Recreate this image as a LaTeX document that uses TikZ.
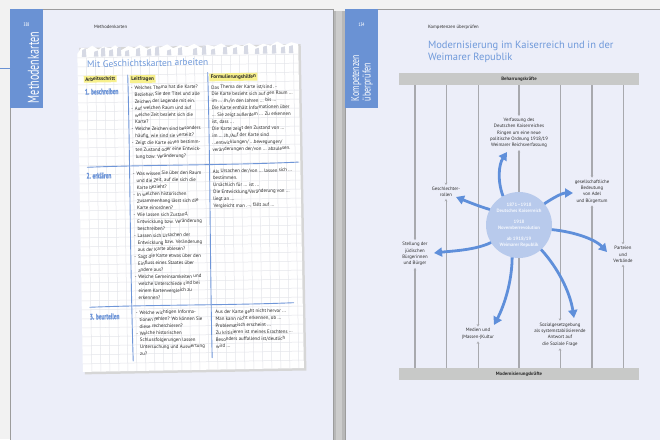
\documentclass[tikz,border=0pt]{standalone}
\usepackage{fontspec}
\setmainfont{PT Sans}
\setsansfont{PT Sans}
\newfontfamily\penfont[FakeBold=2]{PT Sans Bold}
\usetikzlibrary{arrows.meta}
\definecolor{pagebg}{HTML}{ECEEF9}
\definecolor{tabblue}{HTML}{6A92D4}
\definecolor{titleblue}{HTML}{6F99DA}
\definecolor{arrowblue}{HTML}{5F8FDA}
\definecolor{circfill}{HTML}{B8CAEC}
\definecolor{circtext}{HTML}{F2F6FD}
\definecolor{barfill}{HTML}{C8C9C8}
\definecolor{vline}{HTML}{A8A9AE}
\definecolor{gridc}{HTML}{E4E5EA}
\definecolor{hilite}{HTML}{F7F08C}
\definecolor{outerbg}{HTML}{F2F2F2}
\definecolor{pageedge}{HTML}{9C9C9C}
\definecolor{penblue}{HTML}{6F96D8}
\definecolor{txt}{HTML}{2A2A2A}
\definecolor{torn}{HTML}{D6D9E4}
\newcommand{\bi}{\makebox[3.6pt][l]{-}}
\newcommand{\ci}{\hspace*{3.6pt}}
\begin{document}
\begin{tikzpicture}[x=1pt,y=-1pt,
  every node/.style={inner sep=0pt, outer sep=0pt},
  lbl/.style={font=\fontsize{4.8}{6.4}\selectfont, align=center, text=txt, inner sep=2pt},
  vl/.style={draw=vline, line width=0.9pt, -{Stealth[length=2.4pt,width=2.6pt]}},
  vlthick/.style={vl, line width=1.4pt},
  bigarrow/.style={draw=arrowblue, line width=2.8pt, -{Triangle[length=8pt,width=9pt]}},
  bar/.style={fill=barfill, minimum width=240pt, minimum height=12pt, font=\fontsize{4.8}{5}\selectfont\bfseries, text=txt},
  paperhead/.style={fill=hilite, inner xsep=1.5pt, inner ysep=1.5pt, font=\fontsize{5.2}{6}\selectfont\bfseries, text=txt, anchor=west},
  rowlabel/.style={anchor=west, text=penblue, font=\fontsize{8}{9}\penfont},
  coltext/.style={anchor=north west, align=left, text=txt, font=\fontsize{4.9}{6.9}\selectfont},
  pen/.style={draw=penblue, line width=0.9pt, line cap=round},
  smallhead/.style={anchor=west, text=txt, font=\fontsize{4.7}{5}\selectfont},
  tabtext/.style={text=white, rotate=90},
]
\useasboundingbox (0,0) rectangle (660,439);
% ---------------- background and pages ----------------
\fill[outerbg] (0,0) rectangle (660,439);
\fill[black!10] (13,12) rectangle (338,445);
\fill[black!20] (333,11) rectangle (345,445);
\fill[black!28] (333,11) rectangle (336,445);
\fill[black!28] (342,11) rectangle (345,445);
\fill[pagebg] (10,9) rectangle (333,445);
\draw[pageedge, line width=0.8pt] (10,445) -- (10,9) -- (333,9) -- (333,445);
\fill[pagebg] (345,9) rectangle (665,445);
\draw[pageedge, line width=0.8pt] (345,445) -- (345,9) -- (665,9);
% ---------------- left page ----------------
\fill[tabblue] (10,9) rectangle (43,108);
\draw[tabblue, line width=0.8pt] (0,68) -- (10,68);
\node[text=white!85!tabblue, font=\fontsize{5}{6}\selectfont\bfseries] (lnum) at (26.5,25) {\scalebox{0.7}[1]{358}};
\node[tabtext] (ltab) at (33.5,67.5) {\resizebox{71pt}{11pt}{Methodenkarten}};
\node[smallhead] (lhead) at (94,27) {Methodenkarten};
% notepad
\begin{scope}[rotate around={1:(190,205)}, transform shape]
  \fill[black!16] (82,46) rectangle (303.5,372.5);
  \fill[white] (80,370) -- (80,52) -- (84,46) -- (90,47) -- (95,44) -- (101,48) -- (106,45) -- (113,47) -- (118,44) -- (124,49) -- (131,45) -- (137,47) -- (143,44) -- (150,48) -- (156,45) -- (163,47) -- (170,44) -- (176,48) -- (183,45) -- (190,47) -- (197,44) -- (204,48) -- (210,45) -- (217,47) -- (224,44) -- (231,48) -- (238,45) -- (245,47) -- (252,44) -- (259,48) -- (266,45) -- (273,47) -- (280,43) -- (287,47) -- (294,44) -- (301,46) -- (301,370) -- cycle;
  \foreach \gx in {89,98,...,300} \draw[gridc, line width=0.5pt] (\gx,56) -- (\gx,370);
  \foreach \gy in {56,65,...,369} \draw[gridc, line width=0.5pt] (80,\gy) -- (301,\gy);
  % torn remnants
  \foreach \tx/\th in {85/7,97/5,104/8,112/6,120/8,128/5,139/7,150/6,158/8,170/5,181/7,196/6,205/8,214/5,226/7,236/6,247/8,258/5,266/7,275/8,284/6,292/7}
    \fill[torn] (\tx,55-\th) -- (\tx+3.5,55-\th-1) -- (\tx+4,55) -- (\tx-0.5,55) -- cycle;
  \node[anchor=west, text=titleblue, font=\fontsize{9.5}{10}\selectfont] (ntitle) at (89.5,62.3) {Mit Geschichtskarten arbeiten};
  \node[paperhead] (h1) at (86,77.5) {Arbeitsschritt};
  \node[paperhead] (h2) at (132,78.2) {Leitfragen};
  \node[paperhead] (h3) at (211.5,77.8) {Formulierungshilfen};
  \draw[pen] (130,74) .. controls (131,150) and (129,250) .. (130.5,360);
  \draw[pen] (210,73) .. controls (211,160) and (209,260) .. (209.5,358);
  \draw[pen] (88,165.5) .. controls (150,164) and (230,166) .. (299,164);
  \draw[pen] (88,305.5) .. controls (150,304) and (230,306) .. (292,304.5);
  \node[rowlabel] (r1) at (87,90) {\scalebox{0.66}[1]{1. beschreiben}};
  \node[rowlabel] (r2) at (87,174) {\scalebox{0.66}[1]{2. erklären}};
  \node[rowlabel] (r3) at (88,315) {\scalebox{0.66}[1]{3. beurteilen}};
  \node[coltext] (l1) at (133,85) {\bi Welches Thema hat die Karte?\\\ci Beziehen Sie den Titel und alle\\\ci Zeichen der Legende mit ein.\\\bi Auf welchen Raum und auf\\\ci welche Zeit bezieht sich die\\\ci Karte?\\\bi Welche Zeichen sind besonders\\\ci häufig, wie sind sie verteilt?\\\bi Zeigt die Karte einen bestimm-\\\ci ten Zustand oder eine Entwick-\\\ci lung bzw. Veränderung?};
  \node[coltext] (f1) at (213.5,86) {Das Thema der Karte ist/sind ...\\Die Karte bezieht sich auf den Raum ...\\im ... Jh./in den Jahren ... bis ...\\Die Karte enthält Informationen über\\... Sie zeigt außerdem ... Zu erkennen\\ist, dass ...\\Die Karte zeigt den Zustand von ...\\im ... Jh./Auf der Karte sind\\...entwicklungen/ ...bewegungen/\\veränderungen der/von ... abzulesen.};
  \node[coltext] (l2) at (133.5,171) {\bi Was wissen Sie über den Raum\\\ci und die Zeit, auf die sich die\\\ci Karte bezieht?\\\bi In welchen historischen\\\ci Zusammenhang lässt sich die\\\ci Karte einordnen?\\\bi Wie lassen sich Zustand,\\\ci Entwicklung bzw. Veränderung\\\ci beschreiben?\\\bi Lassen sich Ursachen der\\\ci Entwicklung bzw. Veränderung\\\ci aus der Karte ablesen?\\\bi Sagt die Karte etwas über den\\\ci Einfluss eines Staates über\\\ci andere aus?\\\bi Welche Gemeinsamkeiten und\\\ci welche Unterschiede sind bei\\\ci einem Kartenvergleich zu\\\ci erkennen?};
  \node[coltext] (f2) at (213.5,170) {Als Ursachen der/von ... lassen sich ...\\bestimmen.\\Ursächlich für ... ist ...\\Die Entwicklung/Veränderung von ...\\liegt an ...\\Vergleicht man ..., fällt auf ...};
  \node[coltext] (l3) at (134,310) {\bi Welche wichtigen Informa-\\\ci tionen fehlen? Wo können Sie\\\ci diese recherchieren?\\\bi Welche historischen\\\ci Schlussfolgerungen lassen\\\ci Untersuchung und Auswertung\\\ci zu?};
  \node[coltext] (f3) at (213.5,310.5) {Aus der Karte geht nicht hervor ...\\Man kann nicht erkennen, ob ...\\Problematisch erscheint ...\\Zu kritisieren ist meines Erachtens ...\\Besonders auffallend ist/deutlich\\wird ...};
\end{scope}
% ---------------- right page ----------------
\fill[tabblue] (345,9) rectangle (378,108);
\node[text=white!85!tabblue, font=\fontsize{5}{6}\selectfont\bfseries] (rnum) at (361.5,25) {\scalebox{0.7}[1]{134}};
\node[tabtext, anchor=west, align=left, font=\fontsize{8}{11.5}\selectfont] (rtab) at (362,101) {\resizebox{46pt}{8pt}{Kompetenzen}\\\resizebox{38pt}{8pt}{überprüfen}};
\node[smallhead] (rhead) at (428,27) {Kompetenzen überprüfen};
\node[anchor=north west, align=left, text=titleblue, font=\fontsize{10.5}{12}\selectfont] (rtitle) at (428,41) {Modernisierung im Kaiserreich und in der\\Weimarer Republik};
\node[bar] (beh) at (519,79) {Beharrungskräfte};
\node[bar] (mod) at (519,374) {Modernisierungskräfte};
\node[lbl] (verf) at (519,133) {Verfassung des\\Deutschen Kaiserreiches\\Ringen um eine neue\\politische Ordnung 1918/19\\Weimarer Reichsverfassung};
\node[lbl] (gesch) at (446,192) {Geschlechter-\\rollen};
\node[lbl] (jued) at (415,254) {Stellung der\\jüdischen\\Bürgerinnen\\und Bürger};
\node[lbl] (medien) at (478,334) {Medien und\\(Massen-)Kultur};
\node[lbl] (sozial) at (560,334.5) {Sozialgesetzgebung\\als systemstabilisierende\\Antwort auf\\die Soziale Frage};
\node[lbl] (adel) at (592,191.5) {gesellschaftliche\\Bedeutung\\von Adel\\und Bürgertum};
\node[lbl] (part) at (623,254.5) {Parteien\\und\\Verbände};
\foreach \n/\s in {jued/vlthick, gesch/vl, medien/vl, verf/vlthick, sozial/vl, adel/vlthick, part/vl} {
  \draw[\s] (beh.south -| \n) -- (\n.north);
  \draw[\s] (mod.north -| \n) -- (\n.south);
}
\node[circle, fill=circfill, minimum size=66pt, text=circtext, align=center, font=\fontsize{4.8}{6}\selectfont\bfseries] (circ) at (519,225) {1871--1918\\Deutsches Kaiserreich\\[5pt]1918\\Novemberrevolution\\[5pt]ab 1918/19\\Weimarer Republik};
\coordinate (tVerf) at (507,152);
\coordinate (tGes) at (456,197);
\coordinate (tJued) at (434,253);
\coordinate (tMed) at (494,325);
\coordinate (tSoz) at (574,318);
\coordinate (tPart) at (607,252);
\coordinate (tAdel) at (573,193);
\draw[bigarrow] (circ.119) .. controls (497,180) and (499,164) .. (tVerf);
\draw[bigarrow] (circ.152) .. controls (478,206) and (466,201) .. (tGes);
\draw[bigarrow] (circ.212) .. controls (476,250) and (452,251) .. (tJued);
\draw[bigarrow] (circ.258) .. controls (512,282) and (504,306) .. (tMed);
\draw[bigarrow] (circ.312) .. controls (558,268) and (570,292) .. (tSoz);
\draw[bigarrow] (circ.352) .. controls (576,232) and (596,240) .. (tPart);
\draw[bigarrow] (circ.40) .. controls (553,198) and (562,193) .. (tAdel);
\end{tikzpicture}
\end{document}
